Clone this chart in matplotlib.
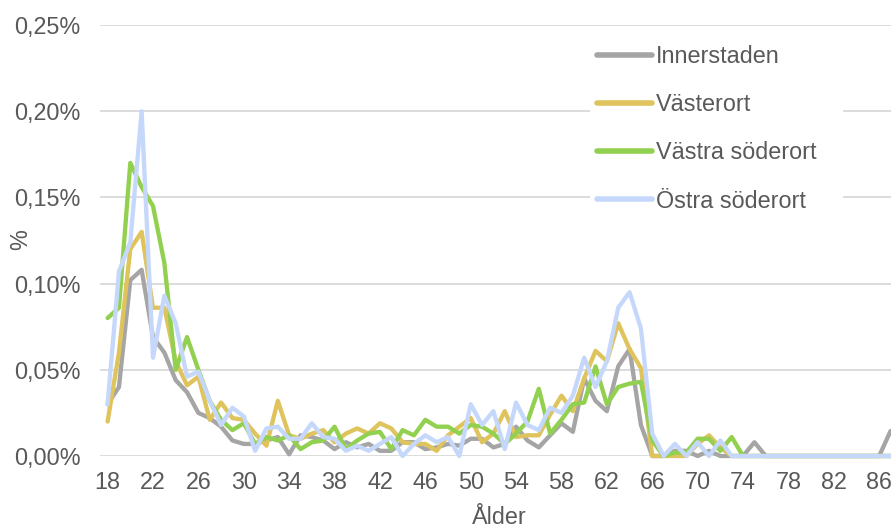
import numpy as np
import matplotlib
matplotlib.use("Agg")
import matplotlib.pyplot as plt
from matplotlib.patches import Rectangle
from matplotlib.ticker import FuncFormatter


########################################################################################################################
# Data (andel i procent per ålder)
########################################################################################################################

ages = list(range(18, 88))

innerstaden = [0.030, 0.040, 0.102, 0.108, 0.069, 0.060, 0.044, 0.037, 0.025, 0.022,
               0.017, 0.009, 0.007, 0.007, 0.009, 0.011, 0.001, 0.012, 0.011, 0.009,
               0.004, 0.008, 0.005, 0.007, 0.003, 0.003, 0.008, 0.008, 0.004, 0.005,
               0.007, 0.006, 0.010, 0.010, 0.005, 0.007, 0.017, 0.009, 0.005, 0.012,
               0.019, 0.014, 0.045, 0.032, 0.026, 0.052, 0.062, 0.018, 0.000, 0.000,
               0.003, 0.003, 0.000, 0.003, 0.000, 0.000, 0.000, 0.008, 0.000, 0.000,
               0.000, 0.000, 0.000, 0.000, 0.000, 0.000, 0.000, 0.000, 0.000, 0.0145]

vasterort = [0.020, 0.060, 0.120, 0.130, 0.086, 0.086, 0.055, 0.041, 0.046, 0.021,
             0.031, 0.022, 0.021, 0.013, 0.006, 0.032, 0.012, 0.010, 0.013, 0.015,
             0.008, 0.013, 0.016, 0.013, 0.019, 0.016, 0.008, 0.007, 0.007, 0.003,
             0.012, 0.017, 0.022, 0.008, 0.013, 0.026, 0.011, 0.012, 0.012, 0.024,
             0.035, 0.026, 0.045, 0.061, 0.055, 0.077, 0.062, 0.051, 0.000, 0.000,
             0.000, 0.000, 0.007, 0.012, 0.005, 0.000, 0.000, 0.000, 0.000, 0.000,
             0.000, 0.000, 0.000, 0.000, 0.000, 0.000, 0.000, 0.000, 0.000, 0.000]

vastra_soderort = [0.080, 0.086, 0.170, 0.156, 0.145, 0.112, 0.050, 0.069, 0.050, 0.032,
                   0.021, 0.015, 0.019, 0.007, 0.011, 0.009, 0.012, 0.004, 0.008, 0.009,
                   0.017, 0.004, 0.009, 0.013, 0.014, 0.004, 0.015, 0.012, 0.021, 0.017,
                   0.017, 0.013, 0.018, 0.017, 0.013, 0.007, 0.013, 0.020, 0.039, 0.013,
                   0.021, 0.030, 0.031, 0.052, 0.030, 0.040, 0.042, 0.043, 0.009, 0.000,
                   0.002, 0.002, 0.010, 0.010, 0.003, 0.011, 0.000, 0.000, 0.000, 0.000,
                   0.000, 0.000, 0.000, 0.000, 0.000, 0.000, 0.000, 0.000, 0.000, 0.000]

ostra_soderort = [0.030, 0.107, 0.124, 0.200, 0.057, 0.093, 0.077, 0.046, 0.049, 0.032,
                  0.018, 0.028, 0.023, 0.003, 0.016, 0.017, 0.010, 0.010, 0.019, 0.011,
                  0.010, 0.003, 0.006, 0.003, 0.007, 0.011, 0.000, 0.007, 0.012, 0.008,
                  0.011, 0.000, 0.030, 0.018, 0.026, 0.004, 0.031, 0.018, 0.015, 0.028,
                  0.025, 0.035, 0.057, 0.040, 0.055, 0.086, 0.095, 0.074, 0.013, 0.000,
                  0.007, 0.000, 0.008, 0.000, 0.009, 0.000, 0.000, 0.000, 0.000, 0.000,
                  0.000, 0.000, 0.000, 0.000, 0.000, 0.000, 0.000, 0.000, 0.000, 0.000]

series_labels = ["Innerstaden", "Västerort", "Västra söderort", "Östra söderort"]
series_colors = ["#a5a5a5", "#dfc35c", "#92d050", "#c5d8fb"]
x_ticks = list(range(18, 87, 4))
y_ticks = [0.00, 0.05, 0.10, 0.15, 0.20, 0.25]


########################################################################################################################
# Plot
########################################################################################################################

text_color = "#595959"
plt.rcParams['font.family'] = ['Liberation Sans', 'DejaVu Sans']

fig = plt.figure(figsize=(8.91, 5.31), dpi=100)
ax = fig.add_axes([100 / 891, 75 / 531, 791 / 891, 431 / 531])

for values, label, color in zip([innerstaden, vasterort, vastra_soderort, ostra_soderort],
                                series_labels, series_colors):
    ax.plot(ages, values, color=color, label=label, linewidth=3.1,
            solid_joinstyle='round', solid_capstyle='round', clip_on=False, zorder=3)

ax.set_xlim(17.33, 87.04)
ax.set_ylim(0, 0.25)
ax.set_xticks(x_ticks)
ax.set_yticks(y_ticks)
ax.yaxis.set_major_formatter(FuncFormatter(lambda v, p: "{:.2f}%".format(v).replace(".", ",")))
ax.tick_params(axis='both', length=0, labelsize=16.8, labelcolor=text_color)
ax.tick_params(axis='y', pad=14)
ax.tick_params(axis='x', pad=11)
ax.grid(axis='y', color='#d9d9d9', linewidth=1.3, zorder=0)
ax.set_axisbelow(True)
for s in ax.spines.values():
    s.set_visible(False)

fig.text(499 / 891, 1 - 518 / 531, "Ålder", ha='center', va='center', fontsize=16.8, color=text_color)
fig.text(21 / 891, 1 - 240 / 531, "%", ha='center', va='center', rotation=90, fontsize=16.8,
         color=text_color)

# legend area in Excel is wider than the text, blank the gridlines behind it
ax.add_patch(Rectangle((590 / 891, 1 - 220 / 531), 253 / 891, 180 / 531, transform=fig.transFigure,
                       facecolor='white', edgecolor='none', zorder=2))

leg = ax.legend(loc='upper left', bbox_to_anchor=(590 / 891, 1 - 38 / 531),
                bbox_transform=fig.transFigure, frameon=True, fancybox=False,
                fontsize=16.8, handlelength=2.35, handletextpad=0.18, labelspacing=1.08,
                borderpad=0.3, borderaxespad=0)
leg.get_frame().set_facecolor('white')
leg.get_frame().set_edgecolor('none')
leg.get_frame().set_alpha(1.0)
for t in leg.get_texts():
    t.set_color(text_color)
for h in leg.get_lines():
    h.set_linewidth(4)

fig.savefig("out.png", dpi=100)
